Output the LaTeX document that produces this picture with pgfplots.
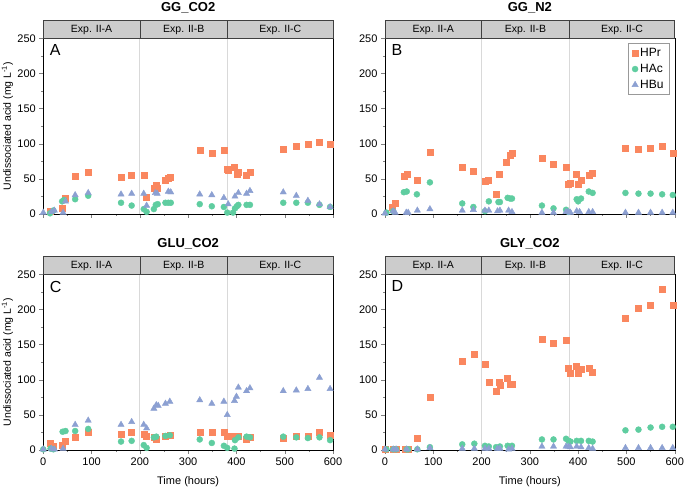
\documentclass[border=0pt]{standalone}
\usepackage{fontspec}
\setmainfont{Liberation Sans}
\usepackage{pgfplots}
\pgfplotsset{compat=1.18}

\definecolor{cpr}{RGB}{250,135,95}
\definecolor{cac}{RGB}{95,205,160}
\definecolor{cbu}{RGB}{140,160,210}
\definecolor{hdr}{RGB}{204,204,204}

\pgfplotsset{
  panel/.style={
    scale only axis, width=289.7pt, height=175.7pt, anchor=south west,
    xmin=0, xmax=600, ymin=0, ymax=250,
    xtick={0,100,...,600}, ytick={0,50,...,250},
    minor x tick num=1, minor y tick num=1,
    tick align=outside, tick pos=left,
    major tick length=4pt, minor tick length=2pt,
    clip=false,
    tick label style={font=\fontsize{11}{12}\selectfont},
    /pgf/number format/assume math mode=true,
    label style={font=\fontsize{11}{12}\selectfont},
    ylabel style={at={(axis description cs:-0.092,0.5)}, anchor=south,
      font=\fontsize{10.5}{12}\selectfont},
    xlabel style={at={(axis description cs:0.5,-0.182)}, anchor=center},
  },
  hpr/.style={only marks, mark=square*, mark size=3pt, draw=cpr, fill=cpr},
  hac/.style={only marks, mark=*, mark size=3pt, draw=cac, fill=cac},
  hbu/.style={only marks, mark=triangle*, mark size=3.6pt, draw=cbu, fill=cbu},
}

% divider lines, header band and panel letter
\newcommand{\panelframe}[2]{%
  \draw[black!15, line width=1pt] (axis cs:200,0) -- (axis cs:200,250);
  \draw[black!15, line width=1pt] (axis cs:382,0) -- (axis cs:382,250);
  \draw[fill=hdr, draw=black!75, line width=0.6pt] (rel axis cs:0,1) rectangle ([yshift=17.6pt]rel axis cs:1,1);
  \draw[black!75, line width=0.6pt] (axis cs:200,250) -- ([yshift=17.6pt]axis cs:200,250);
  \draw[black!75, line width=0.6pt] (axis cs:382,250) -- ([yshift=17.6pt]axis cs:382,250);
  \node[font=\fontsize{10.5}{12}\selectfont] at ([yshift=8.8pt]axis cs:100,250) {Exp. II-A};
  \node[font=\fontsize{10.5}{12}\selectfont] at ([yshift=8.8pt]axis cs:291,250) {Exp. II-B};
  \node[font=\fontsize{10.5}{12}\selectfont] at ([yshift=8.8pt]axis cs:491,250) {Exp. II-C};
  \node[font=\bfseries\fontsize{13}{14}\selectfont] at ([yshift=30.3pt]rel axis cs:0.5,1) {#1};
  \node[font=\fontsize{16}{16}\selectfont, anchor=north west] at ([xshift=3pt,yshift=-3pt]rel axis cs:0,1) {#2};
}

\begin{document}
\begin{tikzpicture}
\path[use as bounding box] (0,0) rectangle (685pt,490pt);

% ---- A: GG_CO2
\begin{axis}[panel, at={(43.3pt,276pt)}, xticklabels={},
  ylabel={Undissociated acid (mg L\textsuperscript{-1})}]
\panelframe{GG\_CO2}{A}
\addplot[hpr] coordinates {(14,4)(40,8)(46,23)(66,54)(93,59)(161,52)(183,55)(208,55)(214,24)(229,36)(234,41)(236,37)(253,48)(259,51)(262,53)(324,91)(349,87)(374,91)(381,64)(383,62)(396,67)(401,57)(404,60)(421,55)(428,60)(497,92)(524,97)(548,99)(572,102)(594,100)};
\addplot[hac] coordinates {(14,1)(21,5)(39,18)(43,20)(66,21)(93,26)(161,16)(183,12)(208,7)(214,3)(229,7)(233,13)(237,14)(253,16)(259,16)(264,16)(324,14)(349,11)(374,10)(381,2)(393,2)(397,8)(401,11)(404,13)(421,13)(428,13)(497,16)(524,16)(548,16)(572,13)(594,10)};
\addplot[hbu] coordinates {(0,2)(17,3)(23,5)(41,2)(46,18)(66,27)(93,30)(161,28)(183,29)(208,29)(214,12)(232,30)(236,29)(259,32)(264,31)(324,28)(349,27)(374,23)(383,14)(397,25)(404,30)(421,29)(428,33)(497,31)(524,26)(548,19)(572,14)(594,10)};
\end{axis}

% ---- B: GG_N2
\begin{axis}[panel, at={(385pt,276pt)}, xticklabels={},
  legend style={at={(rel axis cs:0.983,0.972)}, anchor=north east, draw=black!40,
    font=\fontsize{12}{13}\selectfont, row sep=2pt, inner xsep=4pt, inner ysep=3pt},
  legend cell align=left]
\panelframe{GG\_N2}{B}
\addplot[hpr] coordinates {(14,9)(21,15)(39,54)(45,57)(66,48)(93,88)(160,67)(183,61)(207,47)(214,48)(230,28)(237,57)(252,73)(259,84)(263,87)(325,79)(349,71)(375,66)(380,43)(384,44)(397,57)(400,43)(406,48)(422,55)(430,58)(498,94)(525,92)(550,94)(574,96)(596,87)};
\addlegendentry{HPr}
\addplot[hac] coordinates {(3,2)(17,4)(39,31)(45,32)(66,28)(93,45)(160,15)(183,10)(207,4)(215,18)(235,17)(238,17)(254,23)(259,22)(263,22)(325,12)(349,8)(375,6)(380,3)(397,21)(400,18)(406,22)(422,32)(430,30)(498,30)(525,29)(550,29)(574,28)(596,27)};
\addlegendentry{HAc}
\addplot[hbu] coordinates {(0,1)(17,4)(21,2)(44,2)(48,2)(67,5)(93,7)(160,5)(183,6)(207,5)(215,5)(233,4)(238,5)(256,5)(263,3)(325,2)(349,2)(375,3)(380,3)(384,2)(397,4)(403,3)(422,3)(430,3)(498,2)(525,2)(550,2)(574,2)(596,2)};
\addlegendentry{HBu}
\end{axis}

% ---- C: GLU_CO2
\begin{axis}[panel, at={(43.3pt,40pt)},
  xlabel={Time (hours)},
  ylabel={Undissociated acid (mg L\textsuperscript{-1})}]
\panelframe{GLU\_CO2}{C}
\addplot[hpr] coordinates {(15,9)(21,5)(40,7)(46,12)(66,18)(93,25)(161,22)(183,26)(208,23)(214,20)(229,18)(234,16)(253,19)(262,21)(324,26)(349,26)(374,25)(381,20)(385,19)(396,19)(404,19)(421,16)(428,18)(497,17)(524,19)(548,20)(572,25)(594,21)};
\addplot[hac] coordinates {(0,1)(15,2)(21,1)(40,26)(46,27)(66,27)(93,30)(161,12)(183,13)(208,7)(214,3)(229,18)(234,19)(253,20)(262,21)(324,15)(349,10)(374,6)(381,3)(396,2)(397,14)(404,18)(421,19)(428,18)(497,19)(524,18)(548,17)(572,18)(594,14)};
\addplot[hbu] coordinates {(0,1)(17,2)(23,1)(41,2)(66,36)(93,42)(161,36)(183,40)(208,36)(214,31)(229,59)(234,64)(238,63)(253,66)(262,69)(324,71)(349,66)(374,69)(381,50)(396,70)(400,76)(404,89)(421,84)(428,88)(497,84)(524,85)(548,87)(572,103)(594,87)};
\end{axis}

% ---- D: GLY_CO2
\begin{axis}[panel, at={(385pt,40pt)}, xlabel={Time (hours)}]
\panelframe{GLY\_CO2}{D}
\addplot[hpr] coordinates {(0,1)(17,1)(23,1)(41,1)(48,1)(67,17)(93,75)(160,127)(185,137)(207,122)(215,97)(230,83)(236,97)(238,92)(254,102)(259,93)(263,94)(325,157)(349,152)(375,156)(380,116)(384,109)(397,119)(400,109)(406,115)(422,116)(430,111)(498,187)(525,202)(550,206)(574,229)(596,206)};
\addplot[hac] coordinates {(3,1)(17,1)(23,1)(45,1)(48,1)(67,1)(93,4)(160,8)(185,9)(207,6)(215,5)(230,4)(238,5)(254,6)(263,6)(325,15)(349,15)(375,16)(380,13)(384,12)(397,13)(406,13)(422,13)(430,12)(498,28)(525,29)(550,32)(574,33)(596,33)};
\addplot[hbu] coordinates {(0,1)(17,1)(23,1)(45,1)(67,1)(93,3)(160,2)(185,2)(207,2)(215,2)(233,2)(238,2)(256,1)(263,2)(325,5)(349,5)(375,5)(380,5)(384,4)(397,5)(406,4)(422,3)(430,2)(498,3)(525,3)(550,3)(574,3)(596,3)};
\end{axis}
\end{tikzpicture}
\end{document}
